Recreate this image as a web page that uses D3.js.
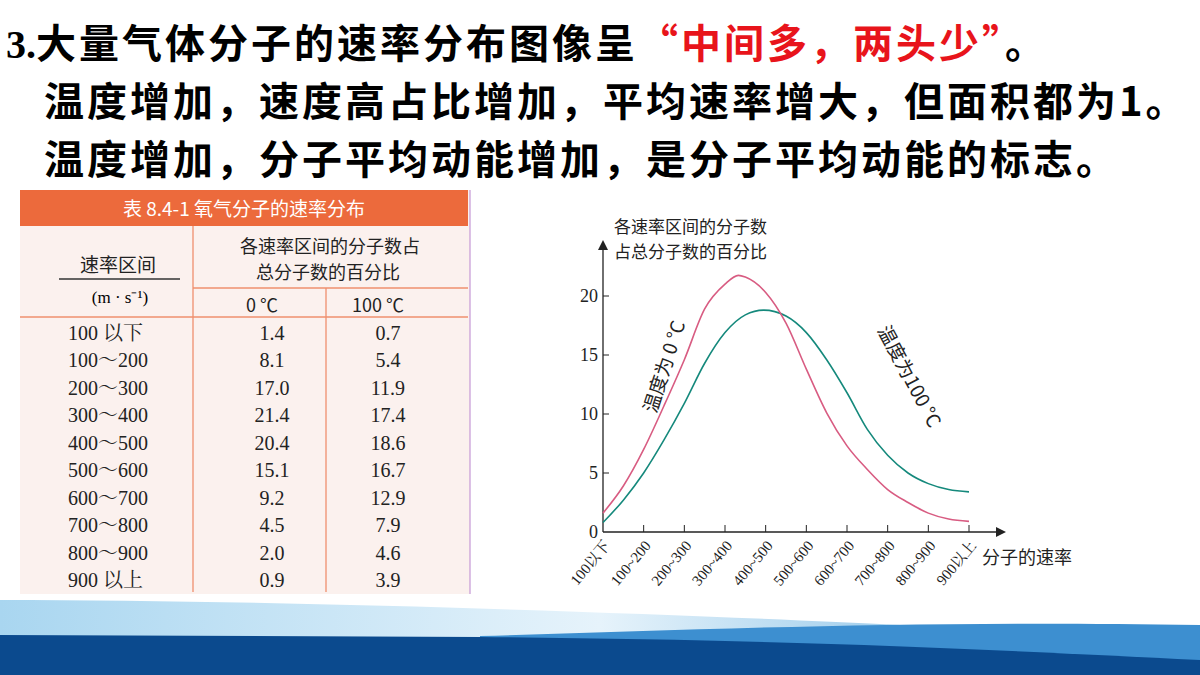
<!DOCTYPE html>
<html><head><meta charset="utf-8">
<script src="https://cdn.jsdelivr.net/npm/d3@7"></script>
<style>body{margin:0;background:#fff;}svg{display:block;}</style>
</head><body>
<svg id="c" width="1200" height="675"></svg>
<script>
// ---- data ----
const categories = ["100以下","100~200","200~300","300~400","400~500","500~600","600~700","700~800","800~900","900以上"];
const tableRanges = ["100 以下","100～200","200～300","300～400","400～500","500～600","600～700","700～800","800～900","900 以上"];
const table0C = ["1.4","8.1","17.0","21.4","20.4","15.1","9.2","4.5","2.0","0.9"];
const table100C = ["0.7","5.4","11.9","17.4","18.6","16.7","12.9","7.9","4.6","3.9"];
// curves, x in category-index units
const curve0X = [0,0.5,1,1.5,2,2.5,3,3.33,3.5,4,4.5,5,5.5,6,6.5,7,7.5,8,8.5,9];
const curve0Y = [1.6,3.9,7.0,10.7,14.6,18.9,21.0,21.75,21.6,20.3,17.7,13.8,10.1,7.3,5.3,3.6,2.5,1.6,1.1,0.9];
const curve100X = [0,0.5,1,1.5,2,2.5,3,3.5,3.95,4.5,5,5.5,6,6.5,7,7.5,8,8.5,9];
const curve100Y = [0.8,2.7,5.0,7.8,10.9,14.3,16.9,18.4,18.8,18.3,16.9,14.6,11.8,8.7,6.5,5.0,4.1,3.6,3.4];
const yTicks = [0,5,10,15,20];

const svg = d3.select("#c");
const serif = "'Liberation Serif','Noto Serif CJK SC','Noto Sans CJK SC',serif";
const cjk = "'Noto Sans CJK SC',sans-serif";

// ---- bottom waves ----
const lg = svg.append("defs").append("linearGradient").attr("id","lb").attr("x1",0).attr("x2",1);
lg.append("stop").attr("offset",0).attr("stop-color","#a9d6f0");
lg.append("stop").attr("offset",0.5).attr("stop-color","#e6f3fb");
lg.append("stop").attr("offset",1).attr("stop-color","#5aa8dc");
svg.append("path").attr("fill","url(#lb)")
  .attr("d","M0,600 C300,600 700,615 900,625 L1200,628 L1200,675 L0,675 Z");
svg.append("path").attr("fill","#3d8fd0")
  .attr("d","M480,636 C700,630 900,620 1200,625 L1200,675 L480,675 Z");
svg.append("path").attr("fill","#0b4a8e")
  .attr("d","M0,635 L480,637 C800,640 1000,650 1200,660 L1200,675 L0,675 Z");

// ---- headings ----
const hs = (yy,xx)=>svg.append("text").attr("x",xx).attr("y",yy).attr("font-size",40).attr("letter-spacing",3).attr("font-weight","bold").attr("font-family",cjk);
const h1 = hs(58,6);
h1.append("tspan").attr("font-family",serif).attr("letter-spacing",0).text("3.");
h1.append("tspan").text("大量气体分子的速率分布图像呈");
h1.append("tspan").attr("fill","#e8141b").text("“中间多，两头少”");
h1.append("tspan").text("。");
hs(116,44).text("温度增加，速度高占比增加，平均速率增大，但面积都为1。");
hs(174,44).text("温度增加，分子平均动能增加，是分子平均动能的标志。");

// ---- table ----
const T = svg.append("g");
T.append("rect").attr("x",20).attr("y",190).attr("width",450).attr("height",404).attr("fill","#fbf1ee");
T.append("rect").attr("x",20).attr("y",190).attr("width",448).attr("height",36).attr("fill","#ec6a3c");
T.append("text").attr("x",244).attr("y",216).attr("text-anchor","middle").attr("fill","#fff").attr("font-size",19).attr("font-family",cjk).text("表 8.4-1  氧气分子的速率分布");
const ln = (x1,y1,x2,y2,c)=>T.append("line").attr("x1",x1).attr("y1",y1).attr("x2",x2).attr("y2",y2).attr("stroke",c||"#ef8f6e").attr("stroke-width",1.3);
ln(20,317,468,317); ln(193,226,193,592); ln(193,288,468,288); ln(326,288,326,592);
ln(59,279,180,279,"#333"); ln(470,190,470,594,"#c9a0d8");
const tt=(x,y,s,fs,a)=>T.append("text").attr("x",x).attr("y",y).attr("text-anchor",a||"middle").attr("font-size",fs||17).attr("fill","#222").attr("font-family",cjk).text(s);
tt(118,272,"速率区间",19); 
T.append("text").attr("x",120).attr("y",303).attr("text-anchor","middle").attr("font-size",17).attr("font-family",serif).text("(m · s⁻¹)");
tt(330,253,"各速率区间的分子数占",18); tt(328,279,"总分子数的百分比",18);
tt(262,312,"0 ℃",18); tt(378,312,"100 ℃",18);
const ry = d3.scalePoint().domain(tableRanges).range([333,580]);
tableRanges.forEach((r,i)=>{
  T.append("text").attr("x",68).attr("y",ry(r)+7).attr("font-size",20).attr("font-family",serif).attr("fill","#222").text(r);
  T.append("text").attr("x",272).attr("y",ry(r)+7).attr("text-anchor","middle").attr("font-size",20).attr("font-family",serif).attr("fill","#222").text(table0C[i]);
  T.append("text").attr("x",388).attr("y",ry(r)+7).attr("text-anchor","middle").attr("font-size",20).attr("font-family",serif).attr("fill","#222").text(table100C[i]);
});

// ---- chart ----
const x = d3.scaleLinear().domain([0,9]).range([603,969]);
const xc = d3.scalePoint().domain(categories).range([603,969]);
const y = d3.scaleLinear().domain([0,20]).range([532,296]);
const G = svg.append("g");
G.append("line").attr("x1",603).attr("y1",532).attr("x2",1000).attr("y2",532).attr("stroke","#222").attr("stroke-width",1.3);
G.append("line").attr("x1",603).attr("y1",532).attr("x2",603).attr("y2",246).attr("stroke","#222").attr("stroke-width",1.3);
G.append("path").attr("d","M598,250 L603,240 L608,250 Z").attr("fill","#222");
G.append("path").attr("d","M996,527 L1006,532 L996,537 Z").attr("fill","#222");
yTicks.forEach(t=>{
  if(t>0) G.append("line").attr("x1",603).attr("x2",609).attr("y1",y(t)).attr("y2",y(t)).attr("stroke","#222");
  G.append("text").attr("x",598).attr("y",y(t)+6).attr("text-anchor","end").attr("font-size",18).attr("font-family",serif).attr("fill","#222").text(t);
});
categories.forEach((c,i)=>{
  if(i>0) G.append("line").attr("x1",xc(c)).attr("x2",xc(c)).attr("y1",532).attr("y2",525).attr("stroke","#222");
  G.append("text").attr("transform",`translate(${xc(c)+8},${546}) rotate(-50)`).attr("text-anchor","end")
    .attr("font-size",15).attr("font-family",serif).attr("fill","#222").text(c);
});
G.append("text").attr("x",982).attr("y",564).attr("font-size",18).attr("font-family",cjk).attr("fill","#222").text("分子的速率");
G.append("text").attr("x",614).attr("y",233).attr("font-size",17).attr("font-family",cjk).attr("fill","#222").text("各速率区间的分子数");
G.append("text").attr("x",614).attr("y",258).attr("font-size",17).attr("font-family",cjk).attr("fill","#222").text("占总分子数的百分比");
const line = d3.line().x(d=>x(d[0])).y(d=>y(d[1])).curve(d3.curveMonotoneX);
G.append("path").datum(curve100X.map((v,i)=>[v,curve100Y[i]])).attr("d",line).attr("fill","none").attr("stroke","#15897c").attr("stroke-width",1.6);
G.append("path").datum(curve0X.map((v,i)=>[v,curve0Y[i]])).attr("d",line).attr("fill","none").attr("stroke","#d85c82").attr("stroke-width",1.6);
G.append("text").attr("transform","translate(656,414) rotate(-72)").attr("font-size",19).attr("font-family",cjk).attr("fill","#222").text("温度为 0 °C");
G.append("text").attr("transform","translate(877,330) rotate(62)").attr("font-size",19).attr("font-family",cjk).attr("fill","#222").text("温度为100 °C");
</script>
</body></html>
